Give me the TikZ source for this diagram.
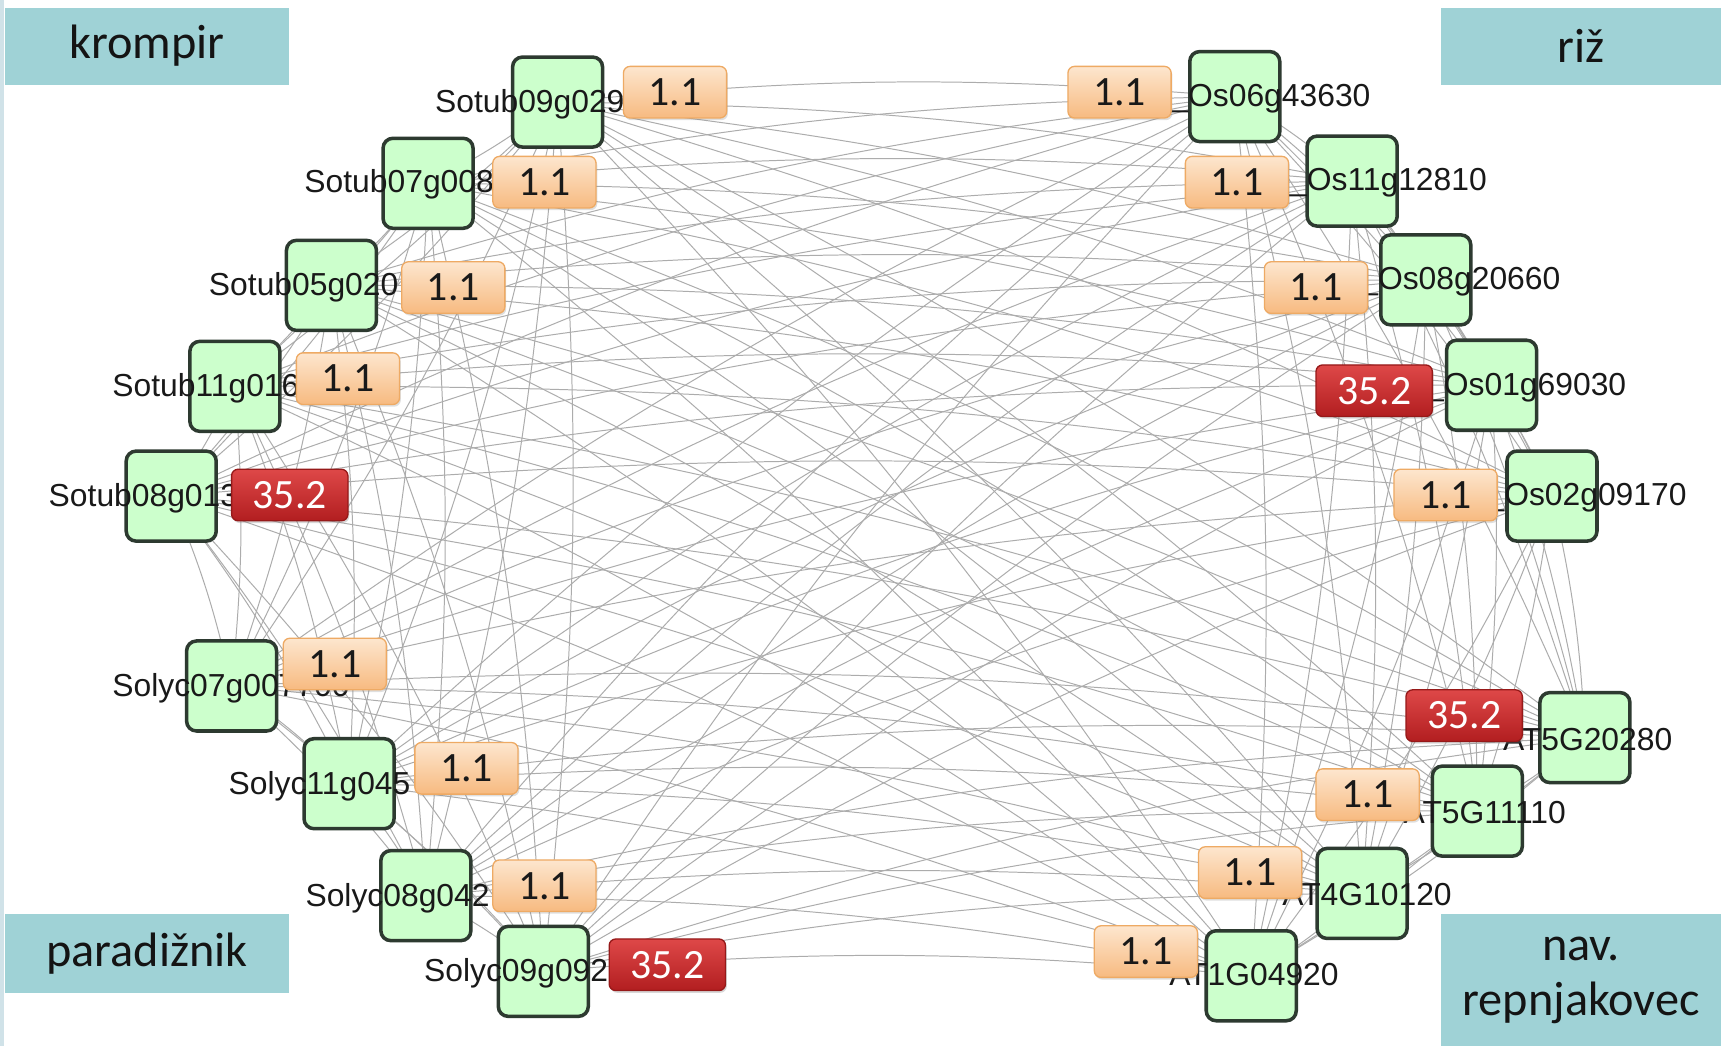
\documentclass[tikz,border=0pt]{standalone}
\usepackage{fontspec}
\setmainfont{Liberation Sans}
\newfontfamily\calib{Carlito}
\usetikzlibrary{shadows}

\definecolor{teal}{RGB}{159,210,214}
\definecolor{nodefill}{RGB}{204,255,204}
\definecolor{nodeborder}{RGB}{45,58,48}
\definecolor{peachtop}{RGB}{253,230,206}
\definecolor{peachbot}{RGB}{247,186,128}
\definecolor{peachline}{RGB}{238,170,100}
\definecolor{redtop}{RGB}{222,72,72}
\definecolor{redbot}{RGB}{178,30,32}
\definecolor{redline}{RGB}{150,25,25}
\definecolor{edgegray}{RGB}{172,172,172}
\definecolor{sidestrip}{RGB}{208,226,232}

\pgfdeclarelayer{edgelayer}
\pgfdeclarelayer{paper}
\pgfsetlayers{paper,edgelayer,main}

\tikzset{
  gene/.style={draw=nodeborder, line width=1.6pt, fill=nodefill,
    rounded corners=4.5pt, minimum width=41pt, minimum height=41pt, inner sep=0pt},
  genelabel/.style={font=\fontsize{14.5}{16}\selectfont, text=black!90, inner sep=0pt},
  lowscore/.style={draw=peachline, line width=0.6pt, top color=peachtop, bottom color=peachbot,
    rounded corners=3pt, minimum width=47pt, minimum height=23.5pt, inner sep=0pt,
    font=\calib\fontsize{19}{21}\selectfont, text=black!90,
    drop shadow={shadow xshift=0.6pt, shadow yshift=-1pt, opacity=0.25}},
  highscore/.style={draw=redline, line width=0.6pt, top color=redtop, bottom color=redbot,
    rounded corners=3pt, minimum width=53pt, minimum height=23.5pt, inner sep=0pt,
    font=\calib\fontsize{19}{21}\selectfont, text=white,
    drop shadow={shadow xshift=0.6pt, shadow yshift=-1pt, opacity=0.3}},
  species/.style={fill=teal, inner sep=0pt, align=center,
    font=\calib\fontsize{22}{25}\selectfont, text=black!92},
  link/.style={draw=edgegray, line width=0.45pt, bend left=5},
}

\begin{document}
\begin{tikzpicture}[x=0.5pt, y=-0.5pt]
  \useasboundingbox (0,0) rectangle (1568,953);
  \begin{pgfonlayer}{paper}
    \fill[white] (0,0) rectangle (1568,953);
    \fill[sidestrip] (0,0) rectangle (4,953);
  \end{pgfonlayer}

  % gene nodes: potato, tomato, rice, Arabidopsis
  \node[gene] (g1)  at (508,93)  {};
  \node[gene] (g2)  at (390,167) {};
  \node[gene] (g3)  at (302,260) {};
  \node[gene] (g4)  at (214,352) {};
  \node[gene] (g5)  at (156,452) {};
  \node[gene] (g6)  at (211,625) {};
  \node[gene] (g7)  at (318,714) {};
  \node[gene] (g8)  at (388,816) {};
  \node[gene] (g9)  at (495,885) {};
  \node[gene] (g10) at (1125,88) {};
  \node[gene] (g11) at (1232,165) {};
  \node[gene] (g12) at (1299,255) {};
  \node[gene] (g13) at (1359,351) {};
  \node[gene] (g14) at (1414,452) {};
  \node[gene] (g15) at (1444,672) {};
  \node[gene] (g16) at (1346,739) {};
  \node[gene] (g17) at (1241,814) {};
  \node[gene] (g18) at (1140,889) {};

  % interaction edges between every pair of genes, kept beneath the nodes
  \begin{pgfonlayer}{edgelayer}
    \foreach \i [evaluate=\i as \k using int(\i+1)] in {1,...,17} {
      \foreach \j in {\k,...,18} {
        \path[link] (g\i.center) to (g\j.center);
      }
    }
  \end{pgfonlayer}

  % gene names
  \node[genelabel, anchor=west] (t1) at (396,95)  {Sotub09g029};
  \node[genelabel, anchor=west] (t2) at (277,168) {Sotub07g008};
  \node[genelabel, anchor=west] (t3) at (190,262) {Sotub05g020};
  \node[genelabel, anchor=west] (t4) at (102,354) {Sotub11g016};
  \node[genelabel, anchor=west] (t5) at (44,454)  {Sotub08g013};
  \node[genelabel, anchor=west] (t6) at (102,627) {Solyc07g007700};
  \node[genelabel, anchor=west] (t7) at (208,716) {Solyc11g045};
  \node[genelabel, anchor=west] (t8) at (278,818) {Solyc08g042};
  \node[genelabel, anchor=west] (t9) at (386,887) {Solyc09g092};
  \node[genelabel, anchor=east] (t10) at (1249,90)  {\_Os06g43630};
  \node[genelabel, anchor=east] (t11) at (1355,166) {\_Os11g12810};
  \node[genelabel, anchor=east] (t12) at (1422,257) {\_Os08g20660};
  \node[genelabel, anchor=east] (t13) at (1482,353) {\_Os01g69030};
  \node[genelabel, anchor=east] (t14) at (1537,453) {\_Os02g09170};
  \node[genelabel, anchor=east] (t15) at (1524,674) {AT5G20280};
  \node[genelabel, anchor=east] (t16) at (1427,740) {AT5G11110};
  \node[genelabel, anchor=east] (t17) at (1323,815) {AT4G10120};
  \node[genelabel, anchor=east] (t18) at (1220,888) {AT1G04920};

  % score tags
  \node[lowscore]  (s1)  at (615,84)   {1.1};
  \node[lowscore]  (s2)  at (496,166)  {1.1};
  \node[lowscore]  (s3)  at (413,262)  {1.1};
  \node[lowscore]  (s4)  at (317,345)  {1.1};
  \node[highscore] (s5)  at (264,451)  {35.2};
  \node[lowscore]  (s6)  at (305,605)  {1.1};
  \node[lowscore]  (s7)  at (425,700)  {1.1};
  \node[lowscore]  (s8)  at (496,807)  {1.1};
  \node[highscore] (s9)  at (608,879)  {35.2};
  \node[lowscore]  (s10) at (1020,84)  {1.1};
  \node[lowscore]  (s11) at (1127,166) {1.1};
  \node[lowscore]  (s12) at (1199,262) {1.1};
  \node[highscore] (s13) at (1252,356) {35.2};
  \node[lowscore]  (s14) at (1317,451) {1.1};
  \node[highscore] (s15) at (1334,652) {35.2};
  \node[lowscore]  (s16) at (1246,724) {1.1};
  \node[lowscore]  (s17) at (1139,795) {1.1};
  \node[lowscore]  (s18) at (1044,867) {1.1};

  % species captions in the corners
  \node[species, minimum width=129pt, minimum height=35pt] (krompir) at (134,42) {krompir};
  \node[species, minimum width=127.5pt, minimum height=35pt] (riz) at (1440.5,42) {riž};
  \node[species, minimum width=129pt, minimum height=36pt] (paradiznik) at (134,869) {paradižnik};
  \node[species, minimum width=127.5pt, minimum height=60pt] (repnjakovec) at (1440.5,893) {nav.\\repnjakovec};
\end{tikzpicture}
\end{document}
